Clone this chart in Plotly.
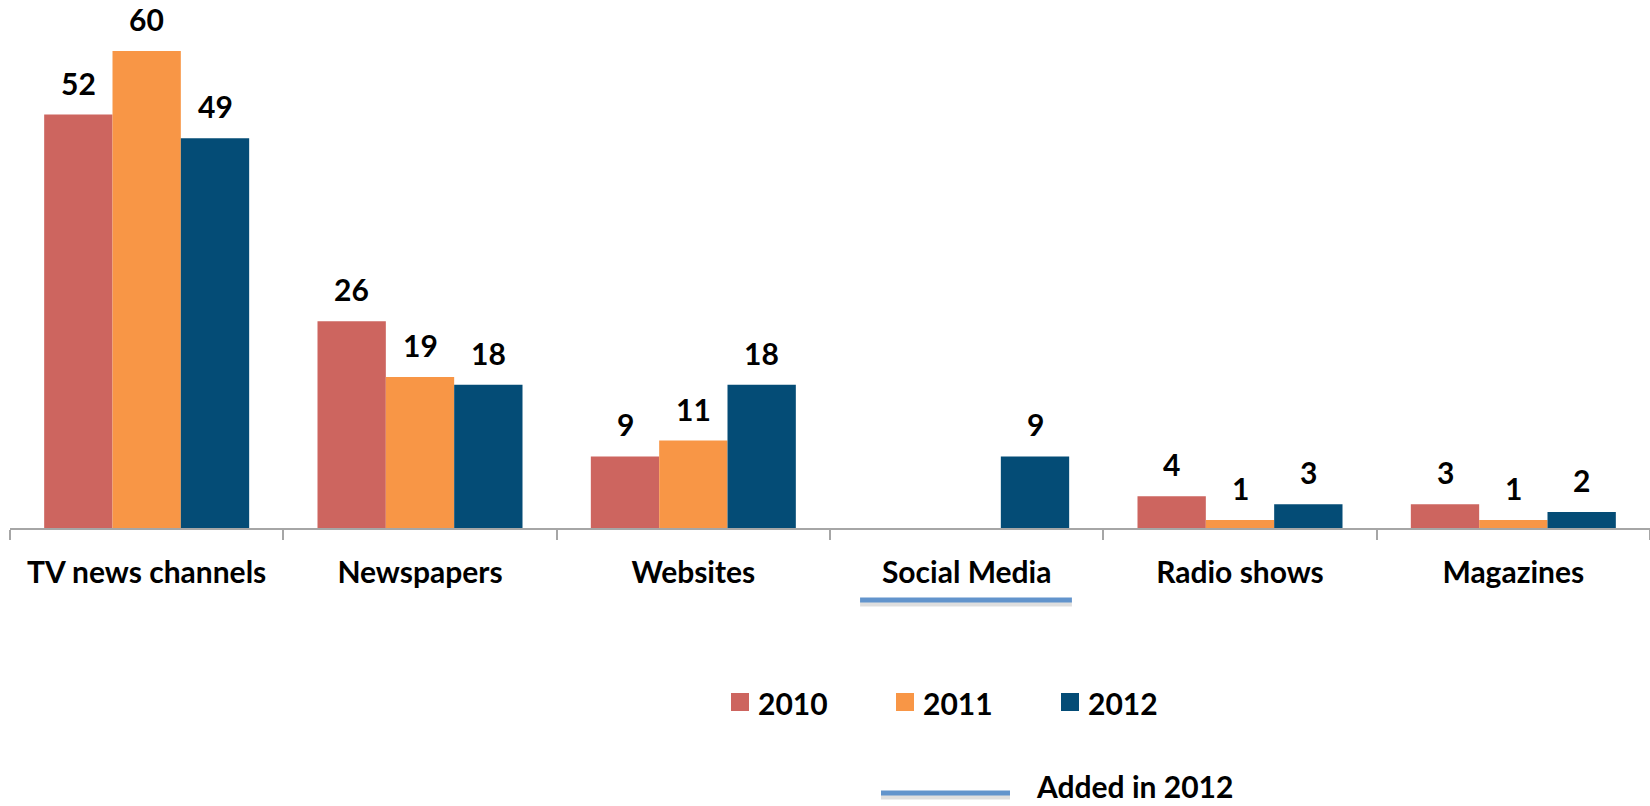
import plotly.graph_objects as go

# Media sources by year
categories = ["TV news channels", "Newspapers", "Websites", "Social Media", "Radio shows", "Magazines"]
years = ["2010", "2011", "2012"]
values_2010 = [52, 26, 9, None, 4, 3]
values_2011 = [60, 19, 11, None, 1, 1]
values_2012 = [49, 18, 18, 9, 3, 2]
series_values = [values_2010, values_2011, values_2012]
colors = ["#CD655F", "#F89646", "#044C76"]
new_category = "Social Media"
new_label = "Added in 2012"

W, H = 1650, 806
ML, MR, MT, MB = 10, 0, 0, 278
PW, PH = W - ML - MR, H - MT - MB
FONT = "Lato"
FS = 30


def px_x(px):
    return (px - ML) / PW


def px_y(py):
    return (H - MB - py) / PH


fig = go.Figure()
for name, vals, col in zip(years, series_values, colors):
    fig.add_trace(go.Bar(
        x=categories, y=vals, name=name, marker=dict(color=col, line=dict(width=0)),
        showlegend=False, hoverinfo="x+y+name",
    ))

annotations = []
shapes = []

# value labels above each bar
n = len(years)
bw = 0.75 / n
for j, vals in enumerate(series_values):
    off = (j - (n - 1) / 2) * bw
    for i, v in enumerate(vals):
        if v is None:
            continue
        annotations.append(dict(
            x=i + off, y=v, xref="x", yref="y", text=f"<b>{v}</b>", showarrow=False,
            yanchor="middle", yshift=32, font=dict(family=FONT, size=FS, color="black"),
        ))

# legend: coloured squares + year labels
leg_x0 = 731
leg_step = 165
for j, (name, col) in enumerate(zip(years, colors)):
    x0 = leg_x0 + j * leg_step
    shapes.append(dict(type="rect", xref="paper", yref="paper",
                       x0=px_x(x0), x1=px_x(x0 + 18), y0=px_y(711), y1=px_y(693),
                       fillcolor=col, line=dict(width=0)))
    annotations.append(dict(x=px_x(x0 + 25), y=px_y(703), xref="paper", yref="paper",
                            text=f"<b>{name}</b>", showarrow=False, xanchor="left", yanchor="middle",
                            font=dict(family=FONT, size=FS, color="black")))

# marker line for the category introduced in 2012
line_col = "#6294CC"
shadow_col = "rgba(0,0,0,0.13)"
ci = categories.index(new_category)
x0, x1 = ci - 0.39, ci + 0.385
shapes.append(dict(type="line", xref="x", yref="paper", x0=x0, x1=x1,
                   y0=px_y(603.5), y1=px_y(603.5), line=dict(color=shadow_col, width=6)))
shapes.append(dict(type="line", xref="x", yref="paper", x0=x0, x1=x1,
                   y0=px_y(600), y1=px_y(600), line=dict(color=line_col, width=5)))

shapes.append(dict(type="line", xref="paper", yref="paper", x0=px_x(881), x1=px_x(1010),
                   y0=px_y(796.5), y1=px_y(796.5), line=dict(color=shadow_col, width=6)))
shapes.append(dict(type="line", xref="paper", yref="paper", x0=px_x(881), x1=px_x(1010),
                   y0=px_y(793), y1=px_y(793), line=dict(color=line_col, width=5)))
annotations.append(dict(x=px_x(1034), y=px_y(806), xref="paper", yref="paper",
                        text=f"<b>{new_label}</b>", showarrow=False, xanchor="left", yanchor="bottom",
                        font=dict(family=FONT, size=FS, color="black")))

fig.update_layout(
    width=W, height=H,
    margin=dict(l=ML, r=MR, t=MT, b=MB),
    paper_bgcolor="white", plot_bgcolor="white",
    barmode="group", bargap=0.25, bargroupgap=0,
    font=dict(family=FONT, size=FS, color="black"),
    annotations=annotations, shapes=shapes,
    showlegend=False,
)
fig.update_xaxes(
    type="category", showline=True, linecolor="#A6A6A6", linewidth=2,
    ticks="outside", tickson="boundaries", ticklen=10, tickwidth=2, tickcolor="#A6A6A6",
    tickfont=dict(family=FONT, size=FS, color="black", weight="bold"),
    ticklabelstandoff=17, showgrid=False,
)
fig.update_yaxes(range=[0, 66.4], visible=False, showgrid=False, zeroline=False)

fig.write_html("out.html")
